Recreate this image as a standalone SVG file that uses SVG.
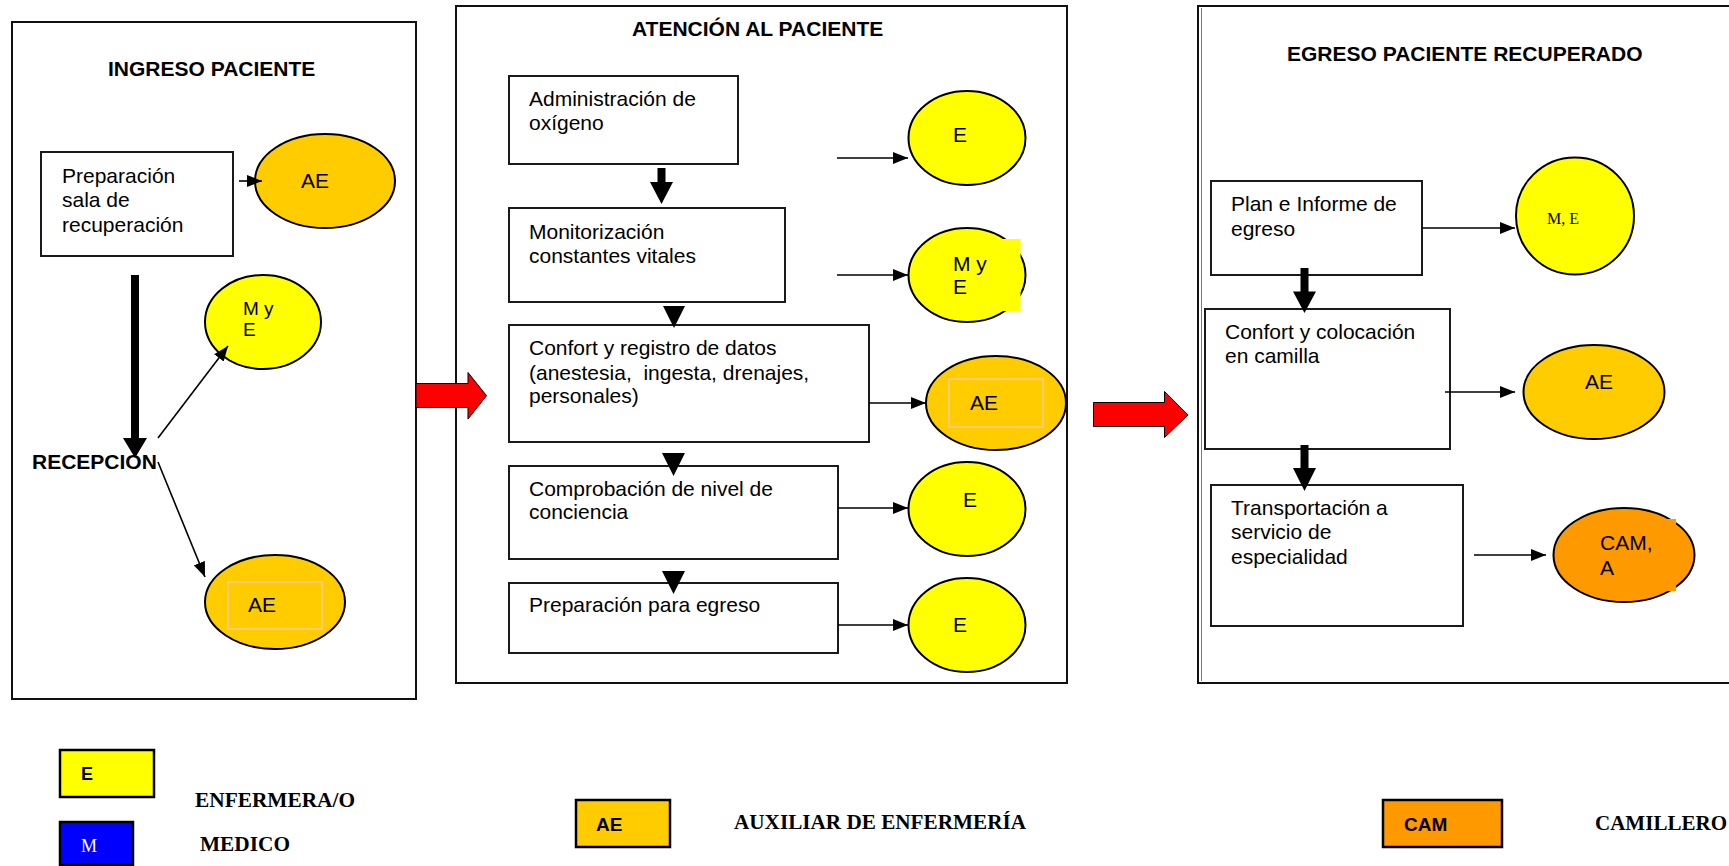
<svg xmlns="http://www.w3.org/2000/svg" width="1729" height="866" viewBox="0 0 1729 866">
  <style>
    .panel { fill: #ffffff; stroke: #111111; stroke-width: 2; }
    .box { fill: #ffffff; stroke: #1a1a1a; stroke-width: 2; }
    .t { font-family: "Liberation Sans", Arial, sans-serif; font-size: 21px; fill: #000000; }
    .title { font-family: "Liberation Sans", Arial, sans-serif; font-size: 21px; font-weight: bold; fill: #000000; }
    .yel { fill: #FFFF00; stroke: #000000; stroke-width: 2; }
    .amb { fill: #FFCC00; stroke: #000000; stroke-width: 2; }
    .org { fill: #FF9900; stroke: #000000; stroke-width: 2; }
    .inner { fill: none; stroke: #FFCC99; stroke-width: 1.5; }
    .thin { stroke: #000000; stroke-width: 1.6; fill: none; marker-end: url(#head); }
    .thick { stroke: #000000; stroke-width: 8; }
    .tri { fill: #000000; }
    .block { fill: #FF0000; stroke: #000000; stroke-width: 1; }
    .lg { font-family: "Liberation Serif", "Times New Roman", serif; font-size: 20px; font-weight: bold; fill: #000000; }
    .lgb { font-family: "Liberation Sans", Arial, sans-serif; font-size: 19px; font-weight: bold; fill: #000000; }
    .key { stroke: #000000; stroke-width: 2.5; }
  </style>
  <defs>
    <marker id="head" markerUnits="userSpaceOnUse" markerWidth="15" markerHeight="12" refX="15" refY="6" orient="auto">
      <path d="M0,0 L15,6 L0,12 z" fill="#000000"/>
    </marker>
  </defs>

  <rect width="1729" height="866" fill="#ffffff"/>

  <!-- phase frames -->
  <g id="panel-ingreso">
    <rect class="panel" x="12" y="22" width="404" height="677"/>
    <text class="title" x="108" y="76">INGRESO PACIENTE</text>
  </g>
  <g id="panel-atencion">
    <rect class="panel" x="456" y="6" width="611" height="677"/>
    <text class="title" x="632" y="36">ATENCIÓN AL PACIENTE</text>
  </g>
  <g id="panel-egreso">
    <rect class="panel" x="1198" y="6" width="560" height="677"/>
    <line x1="1201.5" y1="8" x2="1201.5" y2="681" stroke="#777777" stroke-width="1"/>
    <text class="title" x="1287" y="61">EGRESO PACIENTE RECUPERADO</text>
  </g>

  <!-- ingreso -->
  <g id="n-preparacion-sala">
    <rect class="box" x="41" y="152" width="192" height="104"/>
    <text class="t" x="62" y="183">Preparación</text>
    <text class="t" x="62" y="207">sala de</text>
    <text class="t" x="62" y="232">recuperación</text>
  </g>
  <g id="n-ae-1">
    <ellipse class="amb" cx="325" cy="181" rx="70" ry="47"/>
    <text class="t" x="301" y="188">AE</text>
  </g>
  <g id="n-recepcion">
    <text class="title" x="32" y="469">RECEPCION</text>
  </g>
  <g id="n-mye-1">
    <ellipse class="yel" cx="263" cy="322" rx="58" ry="47"/>
    <text class="t" x="243" y="315" style="font-size:19px">M y</text>
    <text class="t" x="243" y="336" style="font-size:19px">E</text>
  </g>
  <g id="n-ae-2">
    <ellipse class="amb" cx="275" cy="602" rx="70" ry="47"/>
    <rect class="inner" x="228" y="582" width="94" height="47"/>
    <text class="t" x="248" y="612">AE</text>
  </g>

  <!-- atencion -->
  <g id="n-oxigeno">
    <rect class="box" x="509" y="76" width="229" height="88"/>
    <text class="t" x="529" y="106">Administración de</text>
    <text class="t" x="529" y="130">oxígeno</text>
  </g>
  <g id="n-monitorizacion">
    <rect class="box" x="509" y="208" width="276" height="94"/>
    <text class="t" x="529" y="239">Monitorización</text>
    <text class="t" x="529" y="263">constantes vitales</text>
  </g>
  <g id="n-confort-registro">
    <rect class="box" x="509" y="325" width="360" height="117"/>
    <text class="t" x="529" y="355">Confort y registro de datos</text>
    <text class="t" x="529" y="380" xml:space="preserve">(anestesia,  ingesta, drenajes,</text>
    <text class="t" x="529" y="403">personales)</text>
  </g>
  <g id="n-conciencia">
    <rect class="box" x="509" y="466" width="329" height="93"/>
    <text class="t" x="529" y="496">Comprobación de nivel de</text>
    <text class="t" x="529" y="519">conciencia</text>
  </g>
  <g id="n-prep-egreso">
    <rect class="box" x="509" y="583" width="329" height="70"/>
    <text class="t" x="529" y="612">Preparación para egreso</text>
  </g>
  <g id="n-e-1">
    <ellipse class="yel" cx="967" cy="138" rx="58.5" ry="47"/>
    <text class="t" x="953" y="142">E</text>
  </g>
  <g id="n-mye-2">
    <ellipse class="yel" cx="967" cy="275" rx="58.5" ry="47"/>
    <rect x="940" y="239" width="80.5" height="72" fill="#FFFF00"/>
    <text class="t" x="953" y="271">M y</text>
    <text class="t" x="953" y="294">E</text>
  </g>
  <g id="n-ae-3">
    <ellipse class="amb" cx="996" cy="403" rx="70" ry="47"/>
    <rect class="inner" x="949" y="379" width="94" height="48"/>
    <text class="t" x="970" y="410">AE</text>
  </g>
  <g id="n-e-2">
    <ellipse class="yel" cx="967" cy="509" rx="58.5" ry="47"/>
    <text class="t" x="963" y="507">E</text>
  </g>
  <g id="n-e-3">
    <ellipse class="yel" cx="967" cy="625" rx="58.5" ry="47"/>
    <text class="t" x="953" y="632">E</text>
  </g>

  <!-- egreso -->
  <g id="n-plan-informe">
    <rect class="box" x="1211" y="181" width="211" height="94"/>
    <text class="t" x="1231" y="211">Plan e Informe de</text>
    <text class="t" x="1231" y="236">egreso</text>
  </g>
  <g id="n-confort-camilla">
    <rect class="box" x="1205" y="309" width="245" height="140"/>
    <text class="t" x="1225" y="339">Confort y colocación</text>
    <text class="t" x="1225" y="363">en camilla</text>
  </g>
  <g id="n-transportacion">
    <rect class="box" x="1211" y="485" width="252" height="141"/>
    <text class="t" x="1231" y="515">Transportación a</text>
    <text class="t" x="1231" y="539">servicio de</text>
    <text class="t" x="1231" y="564">especialidad</text>
  </g>
  <g id="n-me">
    <ellipse class="yel" cx="1575" cy="216" rx="59" ry="58.5"/>
    <text x="1547" y="224" font-family="Liberation Serif, 'Times New Roman', serif" font-size="16" fill="#000000">M, E</text>
  </g>
  <g id="n-ae-4">
    <ellipse class="amb" cx="1594" cy="392" rx="70.5" ry="47"/>
    <text class="t" x="1585" y="389">AE</text>
  </g>
  <g id="n-cam-a">
    <ellipse class="org" cx="1624" cy="555" rx="70.5" ry="47"/>
    <rect x="1600" y="519" width="76" height="72" fill="#FF9900"/>
    <text class="t" x="1600" y="550">CAM,</text>
    <text class="t" x="1600" y="575">A</text>
  </g>

  <!-- connectors -->
  <g id="connectors">
    <line class="thin" x1="239" y1="181" x2="262" y2="181"/>
    <line class="thin" x1="158" y1="438" x2="228" y2="346"/>
    <line class="thin" x1="158" y1="462" x2="205" y2="577"/>
    <line class="thick" x1="135" y1="275" x2="135" y2="440"/>
    <polygon class="tri" points="123,438 147,438 135,458"/>

    <line class="thin" x1="837" y1="158" x2="908" y2="158"/>
    <line class="thin" x1="837" y1="275" x2="908" y2="275"/>
    <line class="thin" x1="869" y1="403" x2="926" y2="403"/>
    <line class="thin" x1="838" y1="508" x2="908" y2="508"/>
    <line class="thin" x1="838" y1="625" x2="908" y2="625"/>
    <line class="thick" x1="661.5" y1="168" x2="661.5" y2="184"/>
    <polygon class="tri" points="650,182 673,182 661.5,204"/>
    <polygon class="tri" points="663,306 685,306 674,328"/>
    <polygon class="tri" points="662,453 685,453 673.5,476"/>
    <polygon class="tri" points="662,571 685,571 673.5,594"/>

    <line class="thin" x1="1422" y1="228" x2="1515" y2="228"/>
    <line class="thin" x1="1445" y1="392" x2="1515" y2="392"/>
    <line class="thin" x1="1474" y1="555" x2="1546" y2="555"/>
    <line class="thick" x1="1304.5" y1="268" x2="1304.5" y2="293"/>
    <polygon class="tri" points="1293,291.5 1316,291.5 1304.5,313"/>
    <line class="thick" x1="1304.5" y1="445" x2="1304.5" y2="470"/>
    <polygon class="tri" points="1293,468 1316,468 1304.5,491"/>

    <polygon class="block" points="416,383.5 468,383.5 468,372.5 486.5,395.7 468,419 468,407.5 416,407.5"/>
    <polygon class="block" points="1093.5,402.5 1164.5,402.5 1164.5,391.5 1188,415 1164.5,437.5 1164.5,426.5 1093.5,426.5"/>
  </g>

  <!-- legend -->
  <g id="legend-e">
    <rect class="key" x="60" y="750" width="94" height="47" fill="#FFFF00"/>
    <text class="lgb" x="81" y="780" style="font-size:18px">E</text>
    <text class="lg" x="195" y="807" textLength="160" lengthAdjust="spacingAndGlyphs">ENFERMERA/O</text>
  </g>
  <g id="legend-m">
    <rect class="key" x="60" y="822" width="73" height="43" fill="#0000FF"/>
    <text x="81" y="852" font-family="Liberation Serif, 'Times New Roman', serif" font-size="18" fill="#ffffff">M</text>
    <text class="lg" x="200" y="851" textLength="90" lengthAdjust="spacingAndGlyphs">MEDICO</text>
  </g>
  <g id="legend-ae">
    <rect class="key" x="576" y="800" width="94" height="47" fill="#FFCC00"/>
    <text class="lgb" x="596" y="831">AE</text>
    <text class="lg" x="734" y="829" textLength="292" lengthAdjust="spacingAndGlyphs">AUXILIAR DE ENFERMERÍA</text>
  </g>
  <g id="legend-cam">
    <rect class="key" x="1383" y="800" width="119" height="47" fill="#FF9900"/>
    <text class="lgb" x="1404" y="831">CAM</text>
    <text class="lg" x="1595" y="830" textLength="132" lengthAdjust="spacingAndGlyphs">CAMILLERO</text>
  </g>
</svg>
